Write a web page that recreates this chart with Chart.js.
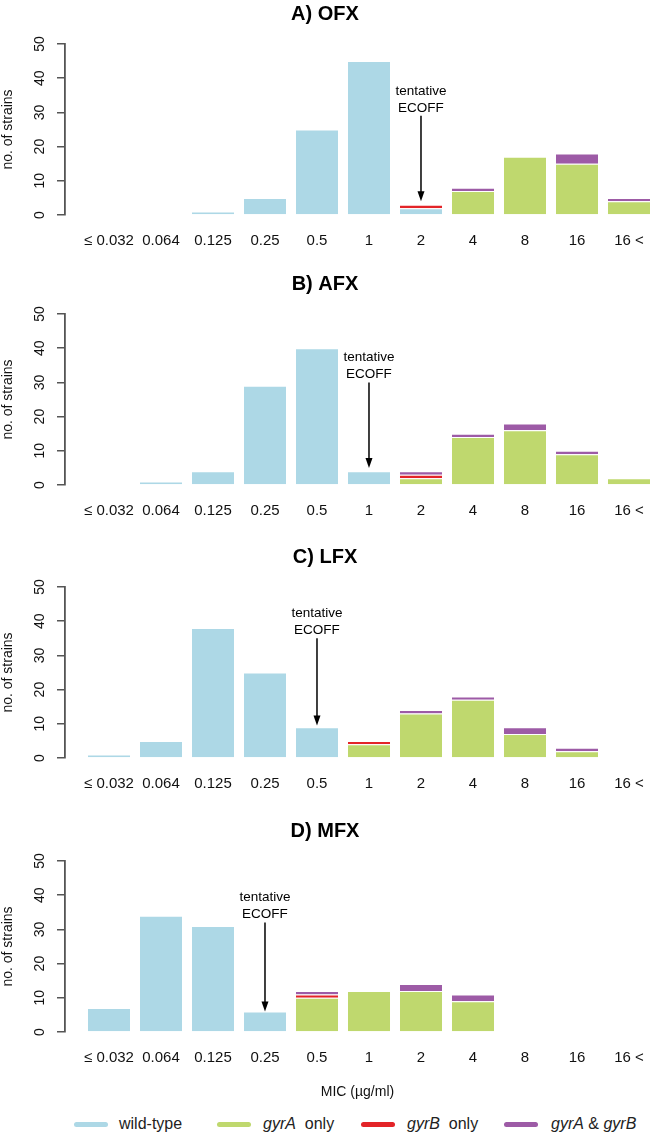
<!DOCTYPE html>
<html>
<head>
<meta charset="utf-8">
<script src="https://cdn.jsdelivr.net/npm/chart.js@4.4.1/dist/chart.umd.min.js"></script>
<style>
  body { margin: 0; background: #fff; width: 650px; height: 1135px; position: relative; overflow: hidden;
         font-family: 'Liberation Sans', Arial, sans-serif; color: #222; }
  canvas { position: absolute; left: 0; }
  .item { position: absolute; top: 1113px; font-size: 16px; line-height: 22px; white-space: pre; }
  .sw { position: absolute; top: 1122px; width: 34px; height: 5px; border-radius: 3px; }
</style>
</head>
<body>
<canvas id="panelA" width="650" height="255" style="top:0px"></canvas>
<canvas id="panelB" width="650" height="255" style="top:270px"></canvas>
<canvas id="panelC" width="650" height="255" style="top:543px"></canvas>
<canvas id="panelD" width="650" height="285" style="top:817px"></canvas>

<div class="sw" style="left:74px;background:#add8e6"></div>
<div class="item" style="left:119px">wild-type</div>
<div class="sw" style="left:217px;background:#bfd86e"></div>
<div class="item" style="left:263px"><i>gyrA</i>  only</div>
<div class="sw" style="left:361px;background:#e32428"></div>
<div class="item" style="left:407px"><i>gyrB</i>  only</div>
<div class="sw" style="left:504px;background:#9d5ba6"></div>
<div class="item" style="left:551px"><i>gyrA</i> &amp; <i>gyrB</i></div>

<script>
var blue = "#add8e6";
var green = "#bfd86e";
var red = "#e32428";
var purple = "#9d5ba6";

var mic = ["≤ 0.032", "0.064", "0.125", "0.25", "0.5", "1", "2", "4", "8", "16", "16 <"];

// A) OFX
var ofxWild = [0, 0, 1, 5, 25, 45, 2, 0, 0, 0, 0];
var ofxGyrA = [0, 0, 0, 0, 0, 0, 0, 7, 17, 15, 4];
var ofxGyrB = [0, 0, 0, 0, 0, 0, 1, 0, 0, 0, 0];
var ofxBoth = [0, 0, 0, 0, 0, 0, 0, 1, 0, 3, 1];

// B) AFX
var afxWild = [0, 1, 4, 29, 40, 4, 0, 0, 0, 0, 0];
var afxGyrA = [0, 0, 0, 0, 0, 0, 2, 14, 16, 9, 2];
var afxGyrB = [0, 0, 0, 0, 0, 0, 1, 0, 0, 0, 0];
var afxBoth = [0, 0, 0, 0, 0, 0, 1, 1, 2, 1, 0];

// C) LFX
var lfxWild = [1, 5, 38, 25, 9, 0, 0, 0, 0, 0, 0];
var lfxGyrA = [0, 0, 0, 0, 0, 4, 13, 17, 7, 2, 0];
var lfxGyrB = [0, 0, 0, 0, 0, 1, 0, 0, 0, 0, 0];
var lfxBoth = [0, 0, 0, 0, 0, 0, 1, 1, 2, 1, 0];

// D) MFX
var mfxWild = [7, 34, 31, 6, 0, 0, 0, 0, 0, 0, 0];
var mfxGyrA = [0, 0, 0, 0, 10, 12, 12, 9, 0, 0, 0];
var mfxGyrB = [0, 0, 0, 0, 1, 0, 0, 0, 0, 0, 0];
var mfxBoth = [0, 0, 0, 0, 1, 0, 2, 2, 0, 0, 0];

// tentative ECOFF arrows (category, arrow start, arrow tip in strains)
var ecoffAt = ["2", "1", "0.5", "0.25"];
var arrowFrom = [29, 30, 35, 32];
var arrowTo = [4, 5, 9.5, 6];

Chart.defaults.font.family = "'Liberation Sans', Arial, sans-serif";
Chart.defaults.color = "#222";

// ECOFF arrow + label
var ecoffArrow = {
  id: "ecoff",
  afterDatasetsDraw(chart, args, opts) {
    const ctx = chart.ctx;
    let x = chart.scales.x.getPixelForValue(mic.indexOf(opts.at));
    let y0 = chart.scales.y.getPixelForValue(opts.from);
    let y1 = chart.scales.y.getPixelForValue(opts.to);

    ctx.save();
    ctx.strokeStyle = "#000";
    ctx.fillStyle = "#000";
    ctx.lineWidth = 1.5;
    ctx.beginPath();
    ctx.moveTo(x, y0);
    ctx.lineTo(x, y1 - 8);
    ctx.stroke();
    ctx.beginPath();
    ctx.moveTo(x - 3.5, y1 - 10);
    ctx.lineTo(x + 3.5, y1 - 10);
    ctx.lineTo(x, y1);
    ctx.closePath();
    ctx.fill();

    ctx.font = "13.5px 'Liberation Sans', Arial, sans-serif";
    ctx.textAlign = "center";
    ctx.textBaseline = "middle";
    ctx.fillText("tentative", x, y0 - 25);
    ctx.fillText("ECOFF", x, y0 - 8);
    ctx.restore();
  }
};

function series(values) {
  return values.map((v) => (v == 0 ? null : v));
}

function makePanel(id, title, wild, gyrA, gyrB, both, k, last) {
  const ctx = document.getElementById(id);
  const bar = {
    borderColor: "#fff",
    borderWidth: { top: 1, left: 0, right: 0, bottom: 0 },
    borderSkipped: false,
    barPercentage: 0.81,
    categoryPercentage: 1,
  };

  return new Chart(ctx, {
    type: "bar",
    data: {
      labels: mic.map((m, i) => i),
      datasets: [
        { ...bar, label: "wild-type", data: series(wild), backgroundColor: blue },
        { ...bar, label: "gyrA only", data: series(gyrA), backgroundColor: green },
        { ...bar, label: "gyrB only", data: series(gyrB), backgroundColor: red },
        { ...bar, label: "gyrA & gyrB", data: series(both), backgroundColor: purple },
      ],
    },
    plugins: [ecoffArrow],
    options: {
      responsive: false,
      animation: false,
      layout: { padding: 0 },
      scales: {
        x: {
          type: "linear",
          stacked: true,
          offset: false,
          min: -0.846,
          max: 10.404,
          afterBuildTicks: (scale) => {
            scale.ticks = mic.map((m, i) => ({ value: i }));
          },
          afterFit: (scale) => {
            scale.height = last ? 70 : 40;
            scale.paddingLeft = 0;
            scale.paddingRight = 0;
          },
          grid: { display: false, drawTicks: false },
          border: { display: false },
          ticks: {
            autoSkip: false,
            maxRotation: 0,
            minRotation: 0,
            padding: 17,
            color: "#111",
            font: { size: 15 },
            callback: (v) => mic[v],
          },
          title: {
            display: last,
            text: "MIC (µg/ml)",
            color: "#111",
            font: { size: 14 },
            padding: { top: 0, bottom: 1.6 },
          },
        },
        y: {
          stacked: true,
          min: 0,
          max: 50,
          afterFit: (scale) => {
            scale.width = 65;
          },
          grid: {
            drawOnChartArea: false,
            drawTicks: true,
            tickLength: 8,
            color: "#555",
            lineWidth: 1.5,
          },
          border: { display: true, color: "#555", width: 1.8 },
          ticks: {
            stepSize: 10,
            autoSkip: false,
            minRotation: 90,
            maxRotation: 90,
            crossAlign: "center",
            padding: 9,
            color: "#111",
            font: { size: 14 },
          },
          title: {
            display: true,
            text: "no. of strains",
            color: "#111",
            font: { size: 14 },
            padding: 0,
          },
        },
      },
      plugins: {
        legend: { display: false },
        tooltip: { enabled: false },
        title: {
          display: true,
          text: title,
          color: "#000",
          font: { size: 20, weight: "bold" },
          padding: { top: 2, bottom: 18 },
        },
        ecoff: { at: ecoffAt[k], from: arrowFrom[k], to: arrowTo[k] },
      },
    },
  });
}

makePanel("panelA", "A) OFX", ofxWild, ofxGyrA, ofxGyrB, ofxBoth, 0, false);
makePanel("panelB", "B) AFX", afxWild, afxGyrA, afxGyrB, afxBoth, 1, false);
makePanel("panelC", "C) LFX", lfxWild, lfxGyrA, lfxGyrB, lfxBoth, 2, false);
makePanel("panelD", "D) MFX", mfxWild, mfxGyrA, mfxGyrB, mfxBoth, 3, true);
</script>
</body>
</html>
